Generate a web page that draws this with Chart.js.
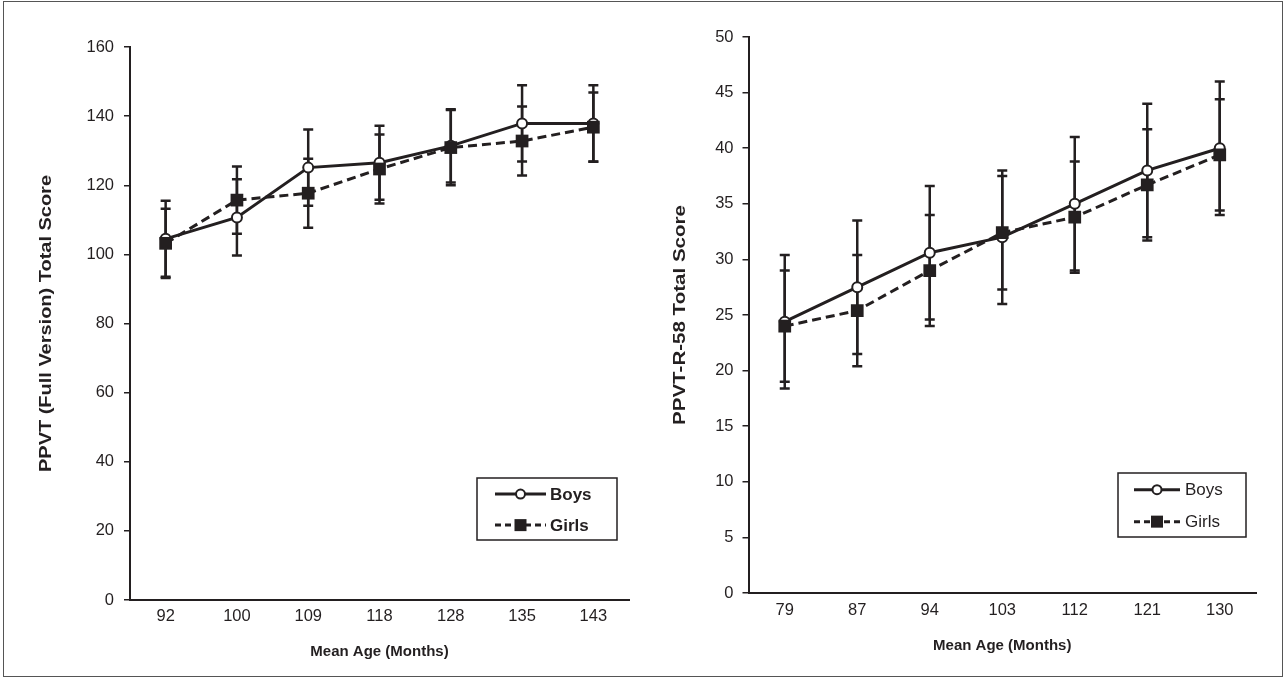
<!DOCTYPE html>
<html>
<head>
<meta charset="utf-8">
<title>PPVT scores by mean age</title>
<script src="https://cdn.jsdelivr.net/npm/chart.js"></script>
<style>
  html, body { margin: 0; padding: 0; background: #fff; }
  body { width: 1287px; height: 680px; position: relative; overflow: hidden; }
  .frame { position: absolute; left: 3px; top: 1px; width: 1280px; height: 676px; border: 1px solid #555; box-sizing: border-box; }
  canvas { position: absolute; top: 0; }
  #left { left: 0; }
  #right { left: 660px; }
</style>
</head>
<body>
<div class="frame"></div>
<canvas id="left" width="660" height="680"></canvas>
<canvas id="right" width="627" height="680"></canvas>
<script>
// --- data ---
const ageLeft = ['92', '100', '109', '118', '128', '135', '143'];
const boysFull = [104.5, 110.7, 125.1, 126.5, 131.4, 137.9, 137.9];
const boysFullSD = [11, 11, 11, 10.7, 10.6, 11, 11];
const girlsFull = [103.2, 115.7, 117.7, 124.7, 130.9, 132.8, 136.8];
const girlsFullSD = [10, 9.7, 10, 10, 10.9, 10, 10];
const ticksLeft = [0, 20, 40, 60, 80, 100, 120, 140, 160];

const ageRight = ['79', '87', '94', '103', '112', '121', '130'];
const boysR58 = [24.4, 27.5, 30.6, 32.0, 35.0, 38.0, 40.0];
const boysR58SD = [6, 6, 6, 6, 6, 6, 6];
const girlsR58 = [24.0, 25.4, 29.0, 32.4, 33.8, 36.7, 39.4];
const girlsR58SD = [5, 5, 5, 5.1, 5, 5, 5];
const ticksRight = [0, 5, 10, 15, 20, 25, 30, 35, 40, 45, 50];

const INK = '#231f20';
const FONT = "'Liberation Sans', Arial, Helvetica, sans-serif";

// error bars: drawn behind lines and markers, using the chart's own scales
const errorBars = {
  id: 'errorBars',
  beforeDatasetsDraw(chart) {
    const ctx = chart.ctx;
    const yScale = chart.scales.y;
    ctx.save();
    ctx.strokeStyle = INK;
    ctx.lineWidth = 2.5;
    chart.data.datasets.forEach((ds, di) => {
      const meta = chart.getDatasetMeta(di);
      ds.data.forEach((v, i) => {
        const x = meta.data[i].x;
        const top = yScale.getPixelForValue(v + ds.sd[i]);
        const bot = yScale.getPixelForValue(v - ds.sd[i]);
        ctx.beginPath();
        ctx.moveTo(x, top); ctx.lineTo(x, bot);
        ctx.moveTo(x - 5, top); ctx.lineTo(x + 5, top);
        ctx.moveTo(x - 5, bot); ctx.lineTo(x + 5, bot);
        ctx.stroke();
      });
    });
    ctx.restore();
  }
};

// vertical axis title, stretched along its length like the printed figure
const yTitle = {
  id: 'yTitle',
  afterDraw(chart, args, opts) {
    const ctx = chart.ctx;
    const a = chart.chartArea;
    ctx.save();
    ctx.font = 'bold 16px ' + FONT;
    const w = ctx.measureText(opts.text).width;
    ctx.translate(opts.x, (a.top + a.bottom) / 2);
    ctx.rotate(-Math.PI / 2);
    ctx.scale(opts.length / w, 1);
    ctx.fillStyle = INK;
    ctx.textAlign = 'center';
    ctx.textBaseline = 'middle';
    ctx.fillText(opts.text, 0, 0);
    ctx.restore();
  }
};

// boxed legend with line-marker-line samples
const boxLegend = {
  id: 'boxLegend',
  afterDraw(chart, args, opts) {
    const ctx = chart.ctx;
    const a = chart.chartArea;
    const w = opts.width, h = opts.height;
    const bx = a.right - opts.right - w;
    const by = a.bottom - opts.bottom - h;
    ctx.save();
    ctx.strokeStyle = INK;
    ctx.lineWidth = 1.5;
    ctx.strokeRect(bx, by, w, h);

    const rows = [
      { label: 'Boys', y: by + h * 0.26, dash: [], kind: 'circle' },
      { label: 'Girls', y: by + h * 0.76, dash: [6, 4], kind: 'rect' }
    ];
    rows.forEach(r => {
      const x0 = bx + opts.sampleLeft;
      const x1 = x0 + opts.sampleLen;
      const xm = (x0 + x1) / 2;
      ctx.strokeStyle = INK;
      ctx.lineWidth = 3;
      ctx.setLineDash(r.dash);
      ctx.beginPath();
      ctx.moveTo(x0, r.y); ctx.lineTo(x1, r.y);
      ctx.stroke();
      ctx.setLineDash([]);
      if (r.kind === 'circle') {
        ctx.beginPath();
        ctx.arc(xm, r.y, 4.5, 0, Math.PI * 2);
        ctx.fillStyle = '#fff';
        ctx.fill();
        ctx.lineWidth = 2;
        ctx.stroke();
      } else {
        ctx.fillStyle = INK;
        ctx.fillRect(xm - 6, r.y - 6, 12, 12);
      }
      ctx.fillStyle = INK;
      ctx.font = (opts.bold ? 'bold ' : '') + '17px ' + FONT;
      ctx.textBaseline = 'middle';
      ctx.textAlign = 'left';
      ctx.fillText(r.label, bx + opts.textLeft, r.y + 1);
    });
    ctx.restore();
  }
};

function makeChart(id, cfg) {
  return new Chart(document.getElementById(id), {
    type: 'line',
    data: {
      labels: cfg.labels,
      datasets: [
        {
          label: 'Girls',
          data: cfg.girls,
          sd: cfg.girlsSD,
          borderColor: INK,
          borderWidth: 3,
          borderDash: [9, 5],
          pointStyle: 'rect',
          pointRadius: 9,
          pointBackgroundColor: INK,
          pointBorderColor: INK,
          pointBorderWidth: 0,
          tension: 0
        },
        {
          label: 'Boys',
          data: cfg.boys,
          sd: cfg.boysSD,
          borderColor: INK,
          borderWidth: 3,
          pointStyle: 'circle',
          pointRadius: 5,
          pointBackgroundColor: '#fff',
          pointBorderColor: INK,
          pointBorderWidth: 2,
          tension: 0
        }
      ]
    },
    options: {
      responsive: false,
      animation: false,
      devicePixelRatio: 1,
      layout: { padding: { left: 0, right: cfg.padRight, top: cfg.padTop, bottom: 0 } },
      plugins: {
        legend: { display: false },
        tooltip: { enabled: false },
        boxLegend: cfg.legend,
        yTitle: cfg.yTitle
      },
      scales: {
        x: {
          offset: true,
          grid: { display: false, drawTicks: false },
          border: { display: true, color: INK, width: 2 },
          ticks: { color: INK, font: { family: FONT, size: 16.5 }, padding: cfg.xTickPad },
          title: {
            display: true,
            text: 'Mean Age (Months)',
            color: INK,
            font: { family: FONT, size: 15, weight: 'bold' },
            padding: { top: 4, bottom: cfg.xTitlePad }
          },
          afterFit: s => { s.height = cfg.xHeight; }
        },
        y: {
          min: cfg.yTicks[0],
          max: cfg.yTicks[cfg.yTicks.length - 1],
          afterBuildTicks: s => { s.ticks = cfg.yTicks.map(v => ({ value: v })); },
          grid: { drawOnChartArea: false, drawTicks: true, tickLength: 6, color: INK, lineWidth: 1.5 },
          border: { display: true, color: INK, width: 2 },
          ticks: { color: INK, font: { family: FONT, size: 16.5 }, padding: cfg.yTickPad },
          title: { display: false },
          afterFit: s => { s.width = cfg.yWidth; }
        }
      }
    },
    plugins: [errorBars, boxLegend, yTitle]
  });
}

makeChart('left', {
  labels: ageLeft,
  boys: boysFull, boysSD: boysFullSD,
  girls: girlsFull, girlsSD: girlsFullSD,
  yTicks: ticksLeft,
  yTitle: { text: 'PPVT (Full Version) Total Score', x: 47, length: 297 },
  padRight: 31, padTop: 47,
  xHeight: 80, xTickPad: 7, xTitlePad: 19,
  yWidth: 130, yTickPad: 10,
  legend: { width: 140, height: 62, right: 12, bottom: 60, sampleLeft: 18, sampleLen: 51, textLeft: 73, bold: true }
});

makeChart('right', {
  labels: ageRight,
  boys: boysR58, boysSD: boysR58SD,
  girls: girlsR58, girlsSD: girlsR58SD,
  yTicks: ticksRight,
  yTitle: { text: 'PPVT-R-58 Total Score', x: 21, length: 220 },
  padRight: 31, padTop: 37,
  xHeight: 87, xTickPad: 8, xTitlePad: 25,
  yWidth: 88.5, yTickPad: 9,
  legend: { width: 128, height: 64, right: 10, bottom: 56, sampleLeft: 16, sampleLen: 46, textLeft: 67, bold: false }
});
</script>
</body>
</html>
